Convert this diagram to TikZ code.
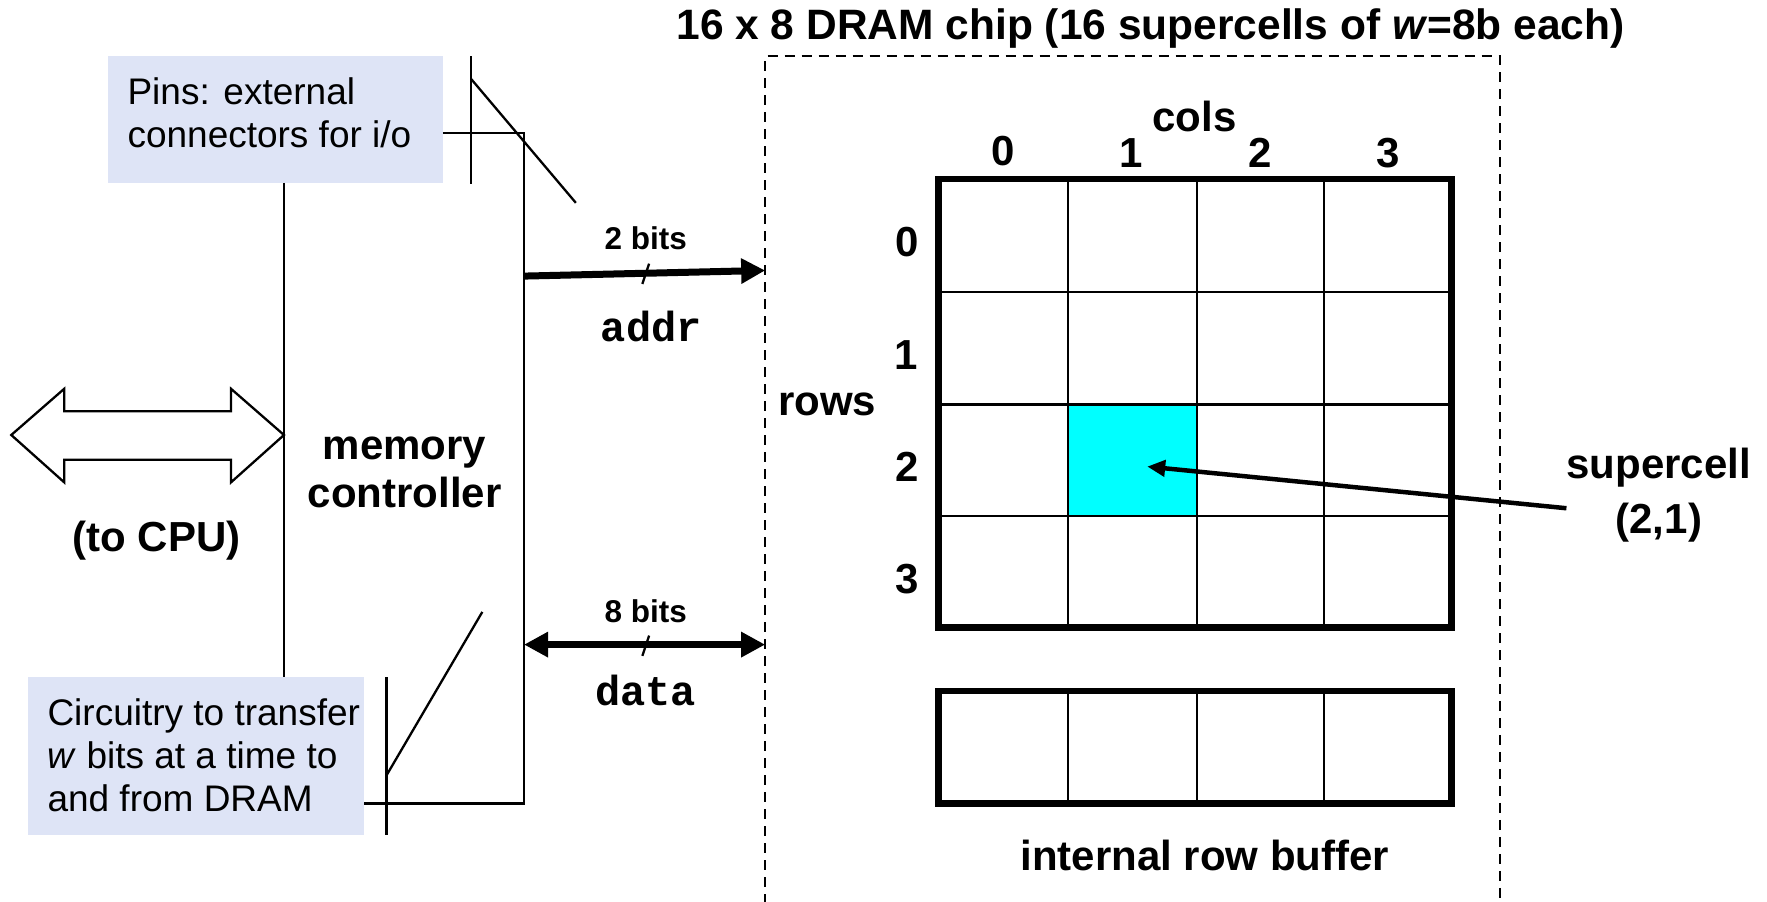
\documentclass[tikz,border=0pt]{standalone}
\usepackage{fontspec}
\setmainfont{Liberation Sans}
\setmonofont{Liberation Mono}
\usetikzlibrary{arrows.meta}
\definecolor{notefill}{HTML}{DEE4F6}
\definecolor{cellcyan}{HTML}{00FFFF}
\newcommand\boldlbl{\fontsize{42}{48.5}\selectfont\bfseries}
\newcommand\titlefont{\fontsize{42.5}{48}\selectfont\bfseries}
\newcommand\notefont{\fontsize{37}{43}\selectfont}
\newcommand\bitsfont{\fontsize{31.5}{36}\selectfont\bfseries}
\newcommand\codefont{\fontsize{42}{46}\selectfont\ttfamily\bfseries}
\begin{document}
\begin{tikzpicture}[x=1.127pt,y=-1.127pt,
  thinline/.style={line width=2.3pt},
  gridline/.style={line width=2.2pt},
  gridframe/.style={line width=6.5pt},
  busarrow/.style={line width=7pt},
  lbl/.style={font=\boldlbl, inner sep=0pt},
  note/.style={fill=notefill, inner sep=0pt},
  notetext/.style={font=\notefont, align=left, anchor=west, inner sep=0pt},
  bits/.style={font=\bitsfont, inner sep=0pt},
  code/.style={font=\codefont, inner sep=0pt},
  chipedge/.style={line width=2pt, dash pattern=on 10pt off 7pt}]
\useasboundingbox (0,0) rectangle (1568,800);

% title
\node[font=\titlefont, inner sep=0pt] (title) at (1021,25) {16 x 8 DRAM chip (16 supercells of \textit{w}=8b each)};

% dashed chip outline (runs off the bottom)
\coordinate (chipBL) at (679,802);
\coordinate (chipTL) at (679,50);
\coordinate (chipTR) at (1331,50);
\coordinate (chipBR) at (1331,802);
\draw[chipedge] (chipBL) -- (chipTL) -- (chipTR) -- (chipBR);

% pins note
\node[note, minimum width=297*1.127pt, minimum height=112*1.127pt] (pins) at (244.5,106) {};
\node[notetext] (pinstext) at (113,100) {Pins: external\\connectors for i/o};

% circuitry note
\node[note, minimum width=298*1.127pt, minimum height=140*1.127pt] (circ) at (174,671) {};
\node[notetext] (circtext) at (42,670) {Circuitry to transfer\\\textit{w} bits at a time to\\and from DRAM};

% memory controller lines
\coordinate (mcTR) at (465,118);
\coordinate (mcBR) at (465,713);
\coordinate (pinsOut) at (393,118);
\coordinate (circOut) at (323,713);
\draw[thinline] (pinsOut) -- (mcTR) -- (mcBR) -- (circOut);
\draw[thinline] (pins.south -| 252,0) -- (circ.north -| 252,0);

% pin markers
\coordinate (pinT1) at (418,50);
\coordinate (pinT2) at (418,163);
\coordinate (pinD1) at (418,70);
\coordinate (pinD2) at (511,180);
\draw[thinline] (pinT1) -- (pinT2);
\draw[thinline] (pinD1) -- (pinD2);
\coordinate (pinB1) at (343,601);
\coordinate (pinB2) at (343,741);
\coordinate (pinE1) at (343,688);
\coordinate (pinE2) at (428,543);
\draw[thinline] (pinB1) -- (pinB2);
\draw[thinline] (pinE1) -- (pinE2);

% memory controller label
\node[lbl, align=center] (mc) at (359,419) {memory\\controller};

% to CPU double arrow
\draw[thinline, fill=white, line join=miter] (10,386) -- (57,345) -- (57,365) -- (205,365) -- (205,345)
  -- (252,386) -- (205,428) -- (205,408) -- (57,408) -- (57,428) -- cycle;
\node[lbl] (cpu) at (139,480) {(to CPU)};

% addr bus
\coordinate (addrS) at (465,245);
\coordinate (addrE) at (679,240);
\draw[busarrow, -{Triangle[length=24pt,width=24pt]}] (addrS) -- (addrE);
\node[bits] (addrbits) at (573,211) {2 bits};
\coordinate (as1) at (570,252);
\coordinate (as2) at (576,234);
\draw[thinline] (as1) -- (as2);
\node[code] (addr) at (578,290) {addr};

% data bus
\coordinate (dataS) at (465,572);
\coordinate (dataE) at (679,572);
\draw[busarrow, {Triangle[length=24pt,width=24pt]}-{Triangle[length=24pt,width=24pt]}] (dataS) -- (dataE);
\node[bits] (databits) at (573,542) {8 bits};
\coordinate (ds1) at (570,582);
\coordinate (ds2) at (576,564);
\draw[thinline] (ds1) -- (ds2);
\node[code] (data) at (573,613) {data};

% supercell highlight
\node[fill=cellcyan, inner sep=0pt, minimum width=114*1.127pt, minimum height=99*1.127pt] (sc) at (1005,408.5) {};

% grid
\foreach \x in {948,1062,1175} {
  \draw[gridline] (\x,159) -- (\x,557);
  \draw[gridline] (\x,613) -- (\x,713);
}
\foreach \y in {259,359,458} {
  \draw[gridline] (833,\y) -- (1288,\y);
}
\draw[gridframe] (833,159) rectangle (1288,557);
\draw[gridframe] (833,613) rectangle (1288,713);

% labels
\node[lbl] (cols) at (1060,103) {cols};
\node[lbl] (c0) at (890,134) {0};
\node[lbl] (c1) at (1004,136) {1};
\node[lbl] (c2) at (1118,136) {2};
\node[lbl] (c3) at (1232,136) {3};
\node[lbl] (rows) at (734,359) {rows};
\node[lbl] (r0) at (805,215) {0};
\node[lbl] (r1) at (804,315) {1};
\node[lbl] (r2) at (805,414) {2};
\node[lbl] (r3) at (805,514) {3};
\node[lbl] (rbuf) at (1069,759) {internal row buffer};
\node[font=\fontsize{42}{55}\selectfont\bfseries, inner sep=0pt, align=center] (sclbl) at (1472,439) {supercell\\(2,1)};

% supercell pointer
\coordinate (scTail) at (1390,451);
\coordinate (scTip) at (1018,414);
\draw[line width=4.5pt, -{Triangle[length=18pt,width=16pt]}] (scTail) -- (scTip);
\end{tikzpicture}
\end{document}
